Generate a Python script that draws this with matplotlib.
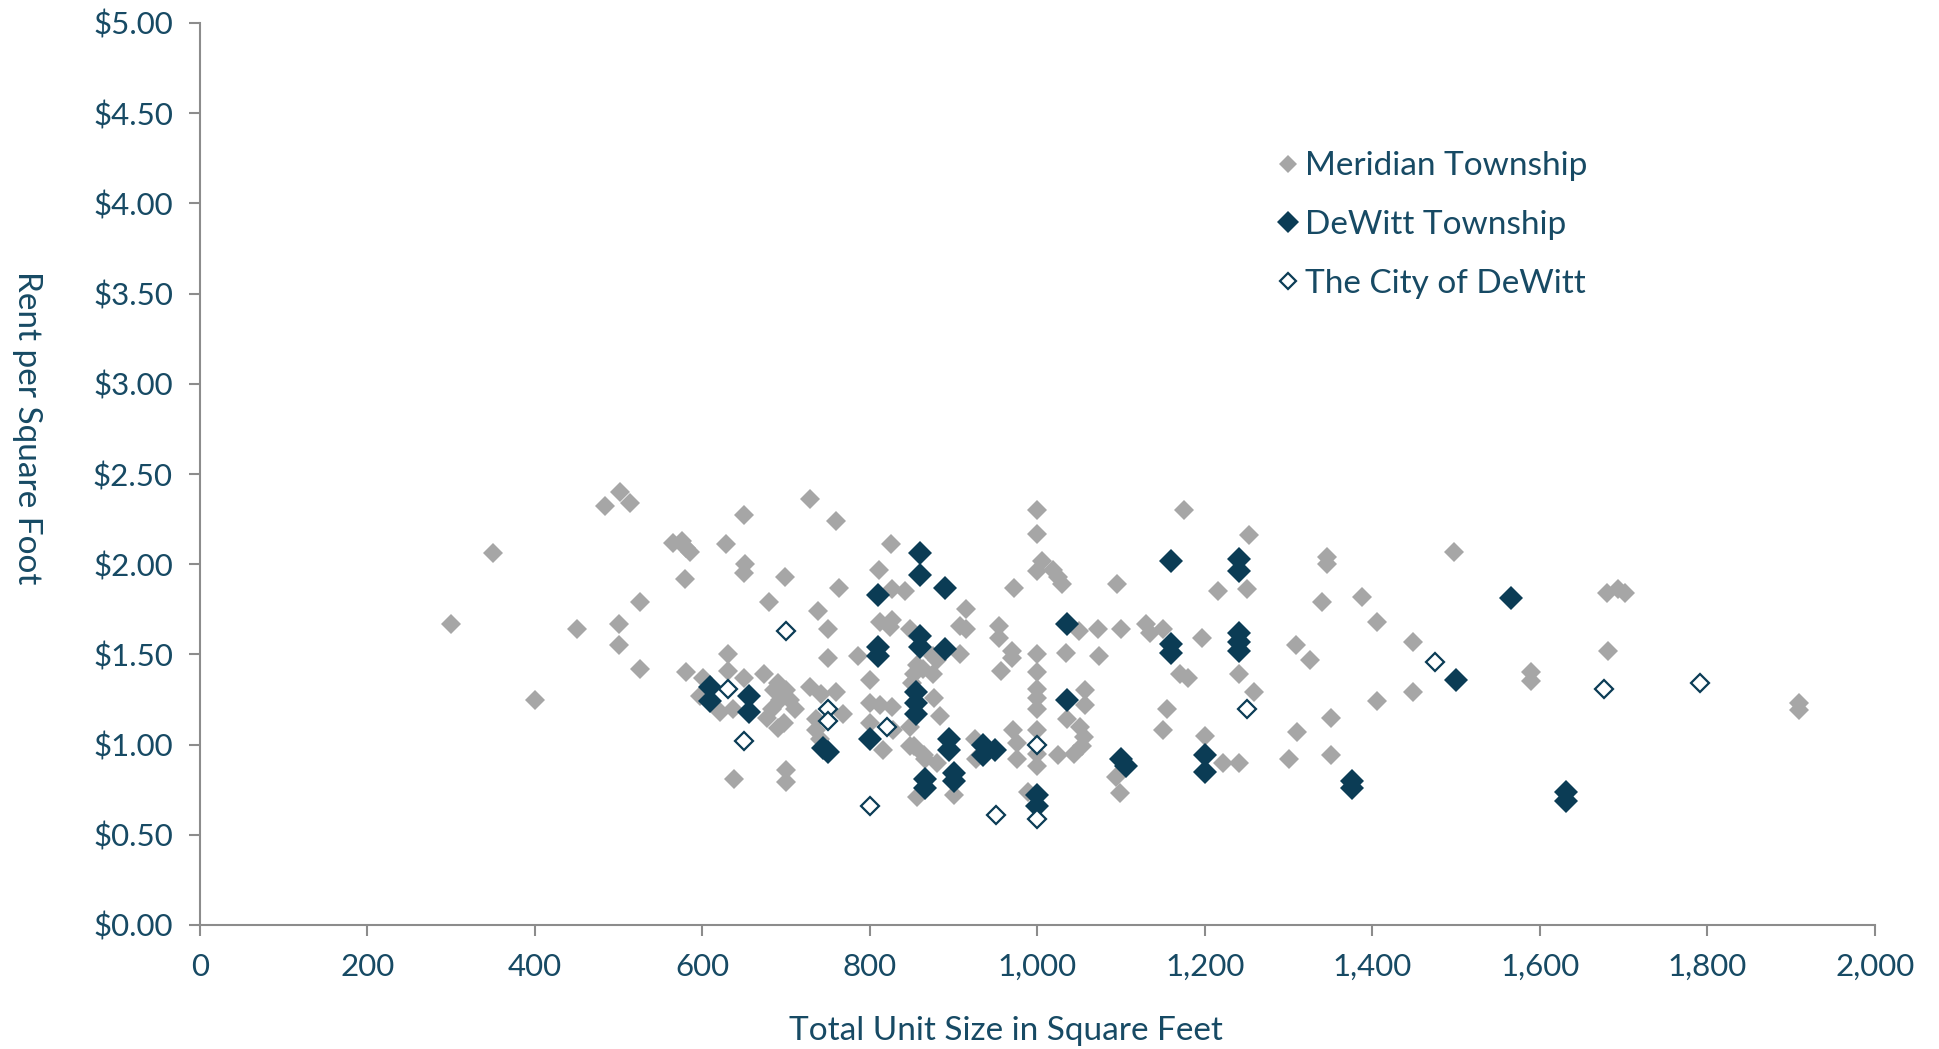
import matplotlib
matplotlib.use("Agg")
import matplotlib.pyplot as plt
from matplotlib.ticker import FuncFormatter, MultipleLocator

# ---- data ----
meridian_x = [300, 350, 400, 450, 483, 501, 514, 500, 500, 525, 525,
              565, 575, 580, 585, 579, 580,
              628, 651, 650, 650, 699, 680, 728, 759, 738, 750, 750, 786, 763,
              630, 630, 601, 650, 674, 597, 621, 637,
              690, 700, 693, 705, 683, 677, 697, 690, 710, 685,
              728, 742, 760, 768, 736, 736, 740,
              800, 800, 812, 826, 800, 828, 816,
              638, 700, 700,
              825, 811, 826, 842, 812, 826, 848, 824,
              856, 852, 850, 863, 875, 875, 880, 876, 884, 848, 848, 866, 880, 852, 864, 856, 900,
              915, 907, 915, 954, 954, 972, 907, 969, 969, 956,
              925, 927, 971, 975, 975,
              1000, 1000, 1005, 999, 1019, 1025, 1029,
              1000, 1000, 1000, 1000, 1000, 999, 999, 999, 989,
              1034, 1049, 1072, 1073, 1057, 1057, 1035, 1051, 1055, 1053, 1043, 1025,
              1095, 1100, 1130, 1134, 1150, 1094, 1098, 1150, 1155,
              1175, 1197, 1170, 1180, 1215, 1250, 1252, 1241, 1258, 1200, 1222, 1240,
              1309, 1325, 1310, 1300, 1346, 1346, 1340, 1350, 1350, 1388, 1405, 1405,
              1448, 1448, 1497, 1589, 1589, 1680, 1693, 1702, 1681, 1909, 1909]
meridian_y = [1.67, 2.06, 1.25, 1.64, 2.32, 2.40, 2.34, 1.67, 1.55, 1.79, 1.42,
              2.12, 2.13, 2.09, 2.07, 1.92, 1.40,
              2.11, 2.00, 1.95, 2.27, 1.93, 1.79, 2.36, 2.24, 1.74, 1.64, 1.48, 1.49, 1.87,
              1.50, 1.41, 1.37, 1.37, 1.39, 1.27, 1.18, 1.20,
              1.34, 1.30, 1.25, 1.25, 1.20, 1.15, 1.12, 1.09, 1.20, 1.30,
              1.32, 1.28, 1.29, 1.17, 1.14, 1.08, 1.03,
              1.36, 1.23, 1.22, 1.21, 1.12, 1.08, 0.97,
              0.81, 0.86, 0.79,
              2.11, 1.97, 1.86, 1.85, 1.68, 1.69, 1.64, 1.65,
              1.44, 1.39, 1.34, 1.42, 1.49, 1.39, 1.47, 1.26, 1.16, 1.10, 0.99, 0.92, 0.90, 0.99, 0.94, 0.71, 0.72,
              1.75, 1.66, 1.64, 1.66, 1.59, 1.87, 1.50, 1.52, 1.48, 1.41,
              1.03, 0.92, 1.08, 1.01, 0.92,
              2.30, 2.17, 2.02, 1.96, 1.97, 1.93, 1.89,
              1.50, 1.40, 1.31, 1.26, 1.20, 1.08, 0.95, 0.88, 0.74,
              1.51, 1.63, 1.64, 1.49, 1.30, 1.22, 1.14, 1.10, 1.04, 0.99, 0.95, 0.94,
              1.89, 1.64, 1.67, 1.62, 1.64, 0.82, 0.73, 1.08, 1.20,
              2.30, 1.59, 1.39, 1.37, 1.85, 1.86, 2.16, 1.39, 1.29, 1.05, 0.90, 0.90,
              1.55, 1.47, 1.07, 0.92, 2.04, 2.00, 1.79, 1.15, 0.94, 1.82, 1.68, 1.24,
              1.57, 1.29, 2.07, 1.40, 1.35, 1.84, 1.86, 1.84, 1.52, 1.23, 1.19]

dewitt_twp_x = [609, 609, 655, 655, 744, 750, 800, 810, 810, 810,
                860, 860, 890, 860, 860, 890, 855, 855, 855, 894, 894, 935, 935, 949,
                900, 900, 866, 866,
                1035, 1035, 1000, 1000, 1100, 1106,
                1160, 1160, 1160, 1240, 1240, 1240, 1240, 1240, 1200, 1200,
                1375, 1375, 1500, 1565, 1631, 1631]
dewitt_twp_y = [1.32, 1.24, 1.27, 1.18, 0.98, 0.96, 1.03, 1.83, 1.54, 1.49,
                2.06, 1.94, 1.87, 1.60, 1.54, 1.53, 1.29, 1.23, 1.17, 1.03, 0.97, 1.00, 0.94, 0.97,
                0.84, 0.80, 0.81, 0.76,
                1.67, 1.25, 0.72, 0.66, 0.92, 0.88,
                2.02, 1.56, 1.51, 2.03, 1.96, 1.62, 1.57, 1.52, 0.94, 0.85,
                0.80, 0.76, 1.36, 1.81, 0.74, 0.69]

city_x = [631, 650, 700, 750, 750, 800, 820, 950, 1000, 1000, 1250, 1475, 1676, 1791]
city_y = [1.31, 1.02, 1.63, 1.20, 1.13, 0.66, 1.10, 0.61, 1.00, 0.585, 1.20, 1.46, 1.31, 1.34]

series_labels = ["Meridian Township", "DeWitt Township", "The City of DeWitt"]
x_label = "Total Unit Size in Square Feet"
y_label = "Rent per Square Foot"

# ---- styling ----
GRAY = "#A6A6A6"
DARK = "#0B3C55"
TEXT = "#174A64"
AXIS = "#8C8C8C"
plt.rcParams['font.family'] = ['Lato', 'DejaVu Sans']

fig = plt.figure(figsize=(19.40, 10.49), dpi=100)
ax = fig.add_axes([200/1940, 1-925/1049, 1675/1940, 902/1049])

ax.plot(meridian_x, meridian_y, linestyle='none', marker='D', markersize=10.5,
        color=GRAY, markeredgewidth=0, label=series_labels[0], zorder=2)
ax.plot(dewitt_twp_x, dewitt_twp_y, linestyle='none', marker='D', markersize=12.5,
        color=DARK, markeredgewidth=0, label=series_labels[1], zorder=3)
ax.plot(city_x, city_y, linestyle='none', marker='D', markersize=9,
        markerfacecolor='white', markeredgecolor=DARK, markeredgewidth=1.6,
        label=series_labels[2], zorder=4)

ax.set_xlim(0, 2000)
ax.set_ylim(0, 5)
ax.xaxis.set_major_locator(MultipleLocator(200))
ax.yaxis.set_major_locator(MultipleLocator(0.5))
ax.xaxis.set_major_formatter(FuncFormatter(lambda v, p: f"{int(v):,}"))
ax.yaxis.set_major_formatter(FuncFormatter(lambda v, p: f"${v:.2f}"))

for s in ['top', 'right']:
    ax.spines[s].set_visible(False)
for s in ['left', 'bottom']:
    ax.spines[s].set_color(AXIS)
    ax.spines[s].set_linewidth(1.5)
ax.tick_params(axis='both', direction='out', length=8, width=1.5, color=AXIS,
               labelcolor=TEXT, labelsize=22.5)
ax.tick_params(axis='x', pad=12)
ax.tick_params(axis='y', pad=11.5)

ax.set_xlabel(x_label, fontsize=24, color=TEXT)
ax.xaxis.set_label_coords(0.481, -0.1005)
ax.xaxis.label.set_va('top')
ax.set_ylabel(y_label, fontsize=24, color=TEXT, rotation=270, va='center')
ax.yaxis.set_label_coords(-0.103, 0.551)

leg = ax.legend(loc='upper left', bbox_to_anchor=(0.6235, 0.891), frameon=False,
                fontsize=24, labelcolor=TEXT, handlelength=0.8, handletextpad=0.12,
                labelspacing=0.86, markerscale=0.9)

fig.savefig("out.png", dpi=100, facecolor='white')
